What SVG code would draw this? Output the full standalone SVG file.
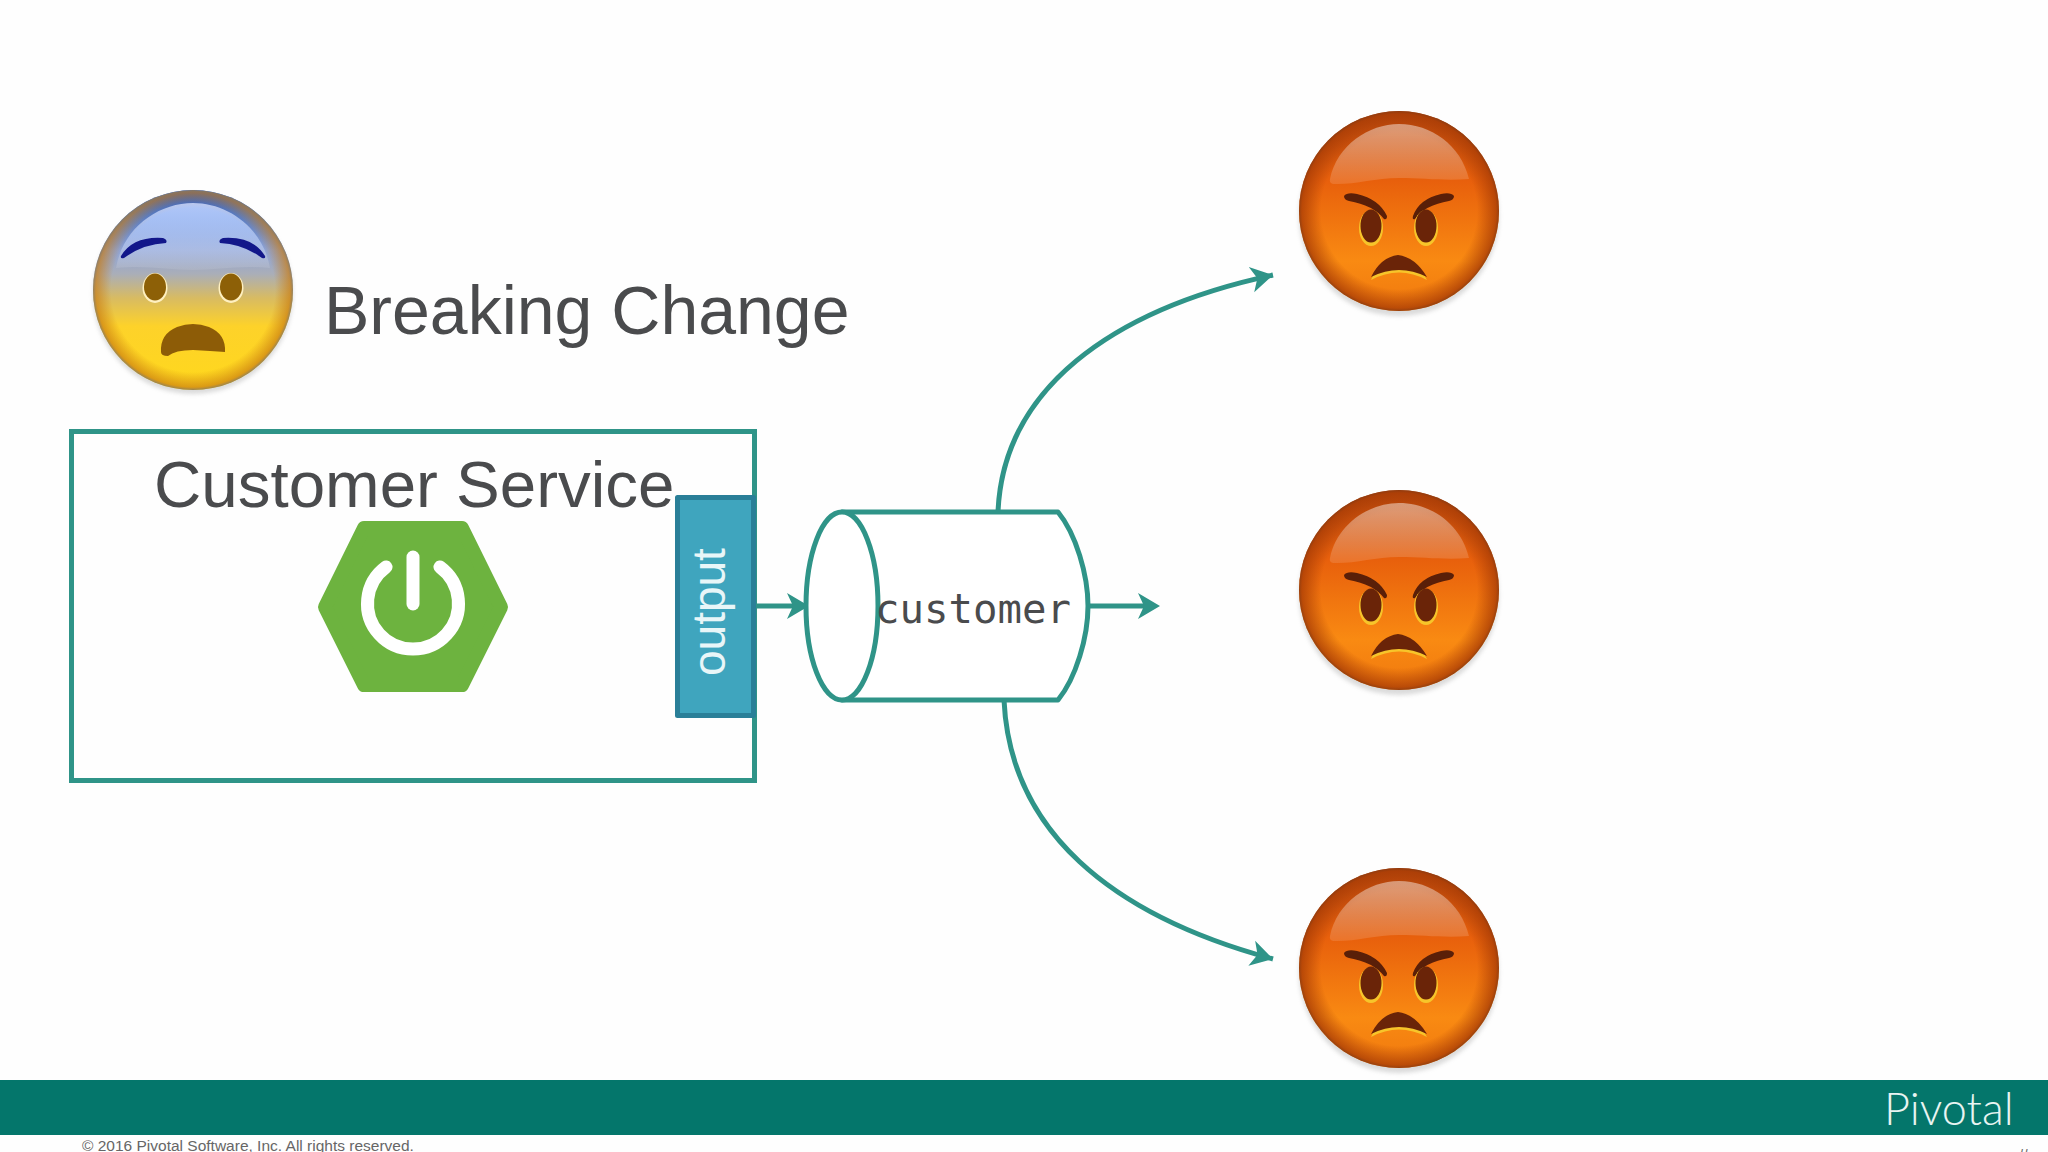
<svg xmlns="http://www.w3.org/2000/svg" xmlns:xlink="http://www.w3.org/1999/xlink" width="2048" height="1152" viewBox="0 0 2048 1152">
<style>
.sans{font-family:"Liberation Sans",Arial,sans-serif;fill:#4a4b4d}
.teal{fill:none;stroke:#2f9488;stroke-width:5}
.link{fill:none;stroke:#2f9488;stroke-width:5;marker-end:url(#arrow)}
</style>
<defs>
<marker id="arrow" markerUnits="userSpaceOnUse" markerWidth="30" markerHeight="30" refX="22" refY="13" orient="auto" viewBox="0 0 30 26">
<path d="M0,0 L22,13 L0,26 L6,13 Z" fill="#2f9488"/>
</marker>
<linearGradient id="angryBase" x1="0" y1="0" x2="0" y2="1">
<stop offset="0" stop-color="#b9470d"/><stop offset=".35" stop-color="#e8600c"/><stop offset=".75" stop-color="#f98a12"/><stop offset="1" stop-color="#f0780e"/>
</linearGradient>
<radialGradient id="rim" cx=".5" cy=".5" r=".5">
<stop offset=".78" stop-color="#a83c05" stop-opacity="0"/><stop offset=".97" stop-color="#a83c05" stop-opacity=".75"/><stop offset="1" stop-color="#8a3a10" stop-opacity=".9"/>
</radialGradient>
<radialGradient id="rimFear" cx=".5" cy=".5" r=".5">
<stop offset=".82" stop-color="#c87a10" stop-opacity="0"/><stop offset=".97" stop-color="#c87a10" stop-opacity=".65"/><stop offset="1" stop-color="#8a7a60" stop-opacity=".9"/>
</radialGradient>
<linearGradient id="gloss" x1="0" y1="0" x2="0" y2="1">
<stop offset="0" stop-color="#fff" stop-opacity=".45"/><stop offset="1" stop-color="#fff" stop-opacity=".12"/>
</linearGradient>
<linearGradient id="fearBase" x1="0" y1="0" x2="0" y2="1">
<stop offset="0" stop-color="#1758e0"/><stop offset=".12" stop-color="#3f7ae6"/><stop offset=".3" stop-color="#8ea4d8"/><stop offset=".42" stop-color="#aaaeb8"/><stop offset=".54" stop-color="#d8bb62"/><stop offset=".68" stop-color="#fdd22a"/><stop offset="1" stop-color="#ffd81c"/>
</linearGradient>
<linearGradient id="fearGloss" x1="0" y1="0" x2="0" y2="1">
<stop offset="0" stop-color="#dfe6ff" stop-opacity=".75"/><stop offset="1" stop-color="#fff" stop-opacity=".08"/>
</linearGradient>
<filter id="soft" x="-10%" y="-10%" width="120%" height="120%"><feGaussianBlur stdDeviation="2"/></filter>
<g id="angry">
<circle cx="0" cy="5" r="100" fill="#999" opacity=".35" filter="url(#soft)"/>
<circle r="100" fill="url(#angryBase)"/>
<circle r="100" fill="url(#rim)"/>
<path d="M-69,-32 C-62,-66 -30,-87 0,-87 C32,-87 62,-66 70,-32 C45,-30 25,-33 0,-33 C-25,-33 -45,-26 -66,-27 Q-70,-28 -69,-32 Z" fill="url(#gloss)"/>
<path d="M-55,-15 Q-52,-19 -42,-17 Q-20,-12 -12,5 Q-12,9 -15,8 Q-26,-6 -50,-10 Q-55,-11 -55,-15 Z" fill="#5a1f08"/>
<path d="M55,-15 Q52,-19 42,-17 Q20,-12 14,5 Q13,9 16,8 Q26,-6 50,-10 Q55,-11 55,-15 Z" fill="#5a1f08"/>
<ellipse cx="-28" cy="17" rx="12" ry="18" fill="#f7c52a"/><ellipse cx="27" cy="17" rx="12" ry="18" fill="#f7c52a"/>
<ellipse cx="-28" cy="15" rx="10.500" ry="16.500" fill="#6a2408"/><ellipse cx="27" cy="15" rx="10.500" ry="16.500" fill="#6a2408"/>
<path d="M-28,69 Q-18,46 -1,45 Q16,46 28,69 Q0,54 -28,69 Z" fill="#f7c52a"/>
<path d="M-28,66 Q-18,46 -1,44 Q16,46 28,66 Q0,52 -28,66 Z" fill="#6a2408"/>
</g>
</defs>
<rect width="2048" height="1152" fill="#fefefe"/>

<g id="connectors">
<path class="link" d="M998,512 C1003,390 1110,310 1273,275"/>
<path class="link" d="M1004,700 C1010,830 1110,915 1273,959"/>
<path class="link" d="M738,606 L841,606" style="marker-end:none"/>
<path d="M787,593 L809,606 L787,619 L793,606 Z" fill="#2f9488"/>
<path class="link" d="M1088,606 L1272,606" style="display:none"/>
<path d="M1090,606 H1150" class="teal"/>
<path d="M1138,593 L1160,606 L1138,619 L1144,606 Z" fill="#2f9488"/>
</g>

<g id="fear-face" transform="translate(193,290)">
<circle cy="4" r="100" fill="#999" opacity=".35" filter="url(#soft)"/>
<circle r="100" fill="url(#fearBase)"/>
<circle r="100" fill="url(#rimFear)"/>
<path d="M-77,-22 C-70,-62 -35,-87 0,-87 C35,-87 70,-62 77,-22 C45,-25 25,-20 0,-20 C-25,-20 -45,-25 -77,-22 Z" fill="url(#fearGloss)"/>
<path d="M-72,-34 Q-60,-54 -30,-52 Q-25,-50 -27,-47 Q-50,-46 -69,-32 Q-73,-31 -72,-34 Z" fill="#12178a"/>
<path d="M72,-34 Q60,-54 30,-52 Q25,-50 27,-47 Q50,-46 69,-32 Q73,-31 72,-34 Z" fill="#12178a"/>
<ellipse cx="-38" cy="-2" rx="12.500" ry="15" fill="#fff0c0"/><ellipse cx="38" cy="-2" rx="12.500" ry="15" fill="#fff0c0"/>
<ellipse cx="-38" cy="-3" rx="11" ry="13.500" fill="#8d6007"/><ellipse cx="38" cy="-3" rx="11" ry="13.500" fill="#8d6007"/>
<path d="M-32,62 Q-33,44 -16,37 Q0,31 16,37 Q33,44 32,62 Q18,61 0,60 Q-18,60 -25,66 Q-32,66 -32,62 Z" fill="#8d5c07"/>
</g>

<g id="angry-1"><use href="#angry" x="1399" y="211"/></g>
<g id="angry-2"><use href="#angry" x="1399" y="590"/></g>
<g id="angry-3"><use href="#angry" x="1399" y="968"/></g>

<text class="sans" x="324" y="334" font-size="68">Breaking Change</text>

<g id="customer-service">
<rect class="teal" x="71.500" y="431.500" width="683" height="349" fill="none"/>
<text class="sans" x="154" y="507" font-size="65.500">Customer Service</text>
<g id="spring-logo">
<path d="M325,607 L364,528 H462 L501,607 L462,685 H364 Z" fill="#6db33f" stroke="#6db33f" stroke-width="14" stroke-linejoin="round"/>
<path d="M386,567 A45.500,45.500 0 1 0 440,567" fill="none" stroke="#fff" stroke-width="13" stroke-linecap="round"/>
<path d="M413,557 V604" fill="none" stroke="#fff" stroke-width="13" stroke-linecap="round"/>
</g>
</g>

<g id="output">
<rect x="677.500" y="497.500" width="76" height="218" fill="#3fa5be" stroke="#2a7f98" stroke-width="5" stroke-linejoin="round"/>
<text x="725" y="676" transform="rotate(-90 725 676)" font-family="Liberation Sans,Arial,sans-serif" font-size="46" fill="#e8f6f8">output</text>
</g>

<g id="customer-topic">
<path d="M842,512 H1058 C1076,534 1088,575 1088,606 C1088,637 1076,678 1058,700 H842 Z" fill="#fff" stroke="#2f9488" stroke-width="5" stroke-linejoin="round"/>
<ellipse cx="842" cy="606" rx="36" ry="94" fill="#fff" stroke="#2f9488" stroke-width="5"/>
<text x="922" y="623" text-anchor="start" font-family="DejaVu Sans Mono,monospace" font-size="40.700" fill="#4a4b4d" dx="-47">customer</text>
</g>

<g id="footer">
<rect y="1080" width="2048" height="55" fill="#04766b"/>
<text x="1884" y="1125" font-family="Lato,sans-serif" font-weight="300" font-size="45" fill="#e8f4f2">Pivotal</text>
<text class="sans" x="82" y="1151" font-size="15.500" style="fill:#666">© 2016 Pivotal Software, Inc.  All rights reserved.</text>
<text class="sans" x="2011" y="1163" font-size="20" style="fill:#666">‹#›</text>
</g>
</svg>
